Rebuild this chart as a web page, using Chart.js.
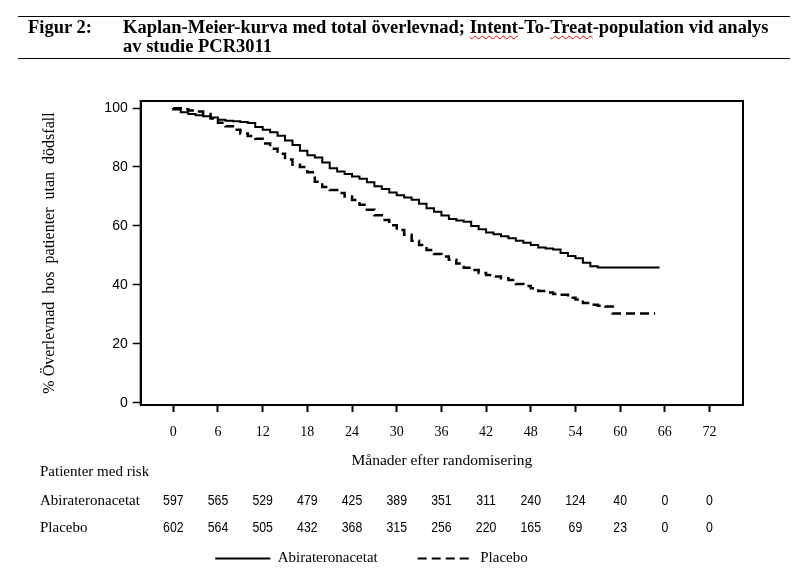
<!DOCTYPE html>
<html>
<head>
<meta charset="utf-8">
<script src="https://cdn.jsdelivr.net/npm/chart.js@4.4.1/dist/chart.umd.min.js"></script>
<style>
  html, body { margin: 0; padding: 0; background: #fff; }
  #wrap { position: relative; width: 803px; height: 573px; overflow: hidden; }
  #chart { position: absolute; left: 0; top: 0; }
  #hdr {
    position: absolute; left: 18px; top: 16px; width: 772px; height: 41px;
    border-top: 1.5px solid #000; border-bottom: 1.5px solid #000;
    font: bold 18.5px "Liberation Serif", "Times New Roman", serif; line-height: 19px; color: #000;
  }
  #hdr .lbl { position: absolute; left: 10px; top: 1px; }
  #hdr .txt { position: absolute; left: 105px; top: 1px; white-space: nowrap; }
  .sp { text-decoration: underline wavy #e00; text-decoration-thickness: 1px; text-underline-offset: 2px; }
</style>
</head>
<body>
<div id="wrap">
  <canvas id="chart" width="803" height="573"></canvas>
  <div id="hdr">
    <span class="lbl">Figur 2:</span>
    <span class="txt">Kaplan-Meier-kurva med total överlevnad; <span class="sp">Intent</span>-To-<span class="sp">Treat</span>-population vid analys<br>av studie PCR3011</span>
  </div>
</div>
<script>
document.addEventListener('DOMContentLoaded', () => {
    // === Data ===
    const monthTicks = [0, 6, 12, 18, 24, 30, 36, 42, 48, 54, 60, 66, 72];
    const survTicks = [0, 20, 40, 60, 80, 100];
    const groupNames = ['Abirateronacetat', 'Placebo'];

    const abiMonths = [0, 1, 2, 3, 4, 5, 6, 7, 8, 9, 10, 11, 12, 13, 14, 15, 16, 17, 18, 19, 20,
        21, 22, 23, 24, 25, 26, 27, 28, 29, 30, 31, 32, 33, 34, 35, 36, 37, 38, 39, 40,
        41, 42, 43, 44, 45, 46, 47, 48, 49, 50, 51, 52, 53, 54, 55, 56, 57, 58, 65.3];
    const abiSurv = [100, 99.5, 98.6, 98.0, 97.6, 97.2, 96.8, 96.0, 95.7, 95.5, 95.3, 94.9, 93.6, 92.6, 91.8, 90.6, 89.0, 87.5, 85.5, 84.0, 83.2,
        81.5, 79.6, 78.5, 77.6, 76.8, 76.0, 74.8, 73.5, 72.5, 71.3, 70.4, 69.6, 68.9, 67.5, 66.0, 64.8, 63.5, 62.3, 61.8, 61.4,
        60.0, 58.9, 57.8, 57.2, 56.5, 55.8, 55.0, 54.3, 53.5, 52.7, 52.3, 52.0, 50.8, 49.8, 49.0, 47.5, 46.3, 45.9, 45.9];

    const placeboMonths = [0, 1, 2, 3, 4, 5, 6, 7, 8, 9, 10, 11, 12, 13, 14, 15, 16, 17, 18, 19, 20,
        21, 22, 23, 24, 25, 26, 27, 28, 29, 30, 31, 32, 33, 34, 35, 36, 37, 38, 39, 40,
        41, 42, 43, 44, 45, 46, 47, 48, 49, 50, 51, 52, 53, 54, 55, 56, 57, 58, 59, 60, 64.7];
    const placeboSurv = [100, 99.9, 99.6, 99.2, 98.8, 98.0, 96.5, 95.0, 93.8, 92.6, 91.4, 90.5, 89.6, 88.0, 86.2, 84.5, 82.5, 80.8, 80.0, 78.2, 75.0,
        73.2, 72.2, 71.2, 70.0, 68.8, 67.2, 65.5, 63.6, 62.0, 60.2, 58.6, 57.0, 55.0, 53.5, 51.8, 50.5, 49.6, 48.5, 47.2, 45.8,
        45.0, 44.0, 43.3, 42.8, 42.2, 41.6, 40.3, 39.6, 38.8, 37.9, 37.4, 36.9, 36.6, 35.6, 35.0, 33.8, 33.2, 32.9, 32.6, 30.3, 30.3];

    const abiAtRisk = [597, 565, 529, 479, 425, 389, 351, 311, 240, 124, 40, 0, 0];
    const placeboAtRisk = [602, 564, 505, 432, 368, 315, 256, 220, 165, 69, 23, 0, 0];

    const serif = '"Liberation Serif", "Times New Roman", serif';
    const sans = '"Liberation Sans", Arial, sans-serif';

    const toPoints = (xs, ys) => xs.map((m, i) => ({ x: m, y: ys[i] }));

    // box round the plot area
    const frame = {
        id: 'frame',
        afterDatasetsDraw(chart) {
            const { ctx, chartArea: a } = chart;
            ctx.save();
            ctx.strokeStyle = '#000';
            ctx.lineWidth = 2;
            ctx.strokeRect(a.left, a.top, a.right - a.left, a.bottom - a.top);
            ctx.restore();
        }
    };

    // numbers at risk under the x axis (narrow digits, squeezed sans)
    const riskTable = {
        id: 'riskTable',
        afterDraw(chart) {
            const { ctx, scales: { x } } = chart;
            const rows = [[abiAtRisk, 501], [placeboAtRisk, 528]];
            ctx.save();
            ctx.fillStyle = '#000';
            ctx.textBaseline = 'middle';
            ctx.textAlign = 'left';
            ctx.font = '15px ' + serif;
            ctx.fillText('Patienter med risk', 40, 472);
            ctx.fillText(groupNames[0], 40, rows[0][1]);
            ctx.fillText(groupNames[1], 40, rows[1][1]);
            ctx.font = '15px ' + sans;
            ctx.textAlign = 'center';
            monthTicks.forEach((m, i) => {
                const px = x.getPixelForValue(m);
                rows.forEach(([vals, py]) => {
                    ctx.save();
                    ctx.translate(px, py);
                    ctx.scale(0.82, 1);
                    ctx.fillText(String(vals[i]), 0, 0);
                    ctx.restore();
                });
            });
            ctx.restore();
        }
    };

    new Chart(document.getElementById('chart'), {
        type: 'line',
        data: {
            datasets: [
                {
                    label: groupNames[0],
                    data: toPoints(abiMonths, abiSurv),
                    borderColor: '#000',
                    borderWidth: 2,
                    stepped: 'after',
                    pointRadius: 0,
                    fill: false
                },
                {
                    label: groupNames[1],
                    data: toPoints(placeboMonths, placeboSurv),
                    borderColor: '#000',
                    borderWidth: 2.5,
                    borderDash: [9, 5],
                    stepped: 'after',
                    pointRadius: 0,
                    fill: false
                }
            ]
        },
        options: {
            responsive: false,
            animation: false,
            events: [],
            layout: { padding: { top: 101, right: 60, bottom: -3, left: 0 } },
            scales: {
                x: {
                    type: 'linear',
                    min: -4.38,
                    max: 76.5,
                    afterFit: (s) => { s.height = 106; },
                    afterBuildTicks: (s) => { s.ticks = monthTicks.map(v => ({ value: v })); },
                    grid: { drawOnChartArea: false, drawTicks: true, tickLength: 7, tickWidth: 2, tickColor: '#000' },
                    border: { display: true, color: '#000', width: 2 },
                    ticks: { color: '#000', font: { family: serif, size: 14 }, padding: 12, maxRotation: 0, autoSkip: false },
                    title: {
                        display: true,
                        text: 'Månader efter randomisering',
                        color: '#000',
                        font: { family: serif, size: 15.5 },
                        padding: { top: 4, bottom: 41 }
                    }
                },
                y: {
                    min: -0.8,
                    max: 102.4,
                    afterFit: (s) => { s.width = 140.7; },
                    afterBuildTicks: (s) => { s.ticks = survTicks.map(v => ({ value: v })); },
                    grid: { drawOnChartArea: false, drawTicks: true, tickLength: 8, tickWidth: 1.5, tickColor: '#000' },
                    border: { display: true, color: '#000', width: 2 },
                    ticks: { color: '#000', font: { family: sans, size: 14 }, padding: 5 },
                    title: {
                        display: true,
                        text: '% Överlevnad  hos  patienter  utan  dödsfall',
                        color: '#000',
                        font: { family: serif, size: 16 },
                        padding: { top: 40, bottom: 4 }
                    }
                }
            },
            plugins: {
                legend: {
                    position: 'bottom',
                    align: 'center',
                    labels: {
                        usePointStyle: true,
                        pointStyle: 'line',
                        pointStyleWidth: 55,
                        padding: 40,
                        color: '#000',
                        font: { family: serif, size: 15 },
                        generateLabels: (chart) => {
                            const items = Chart.defaults.plugins.legend.labels.generateLabels(chart);
                            items.forEach((it) => {
                                const ds = chart.data.datasets[it.datasetIndex];
                                it.lineDash = ds.borderDash || [];
                                it.lineWidth = 2;
                                it.pointStyle = 'line';
                            });
                            return items;
                        }
                    }
                },
                tooltip: { enabled: false }
            }
        },
        plugins: [frame, riskTable]
    });
});
</script>
</body>
</html>
